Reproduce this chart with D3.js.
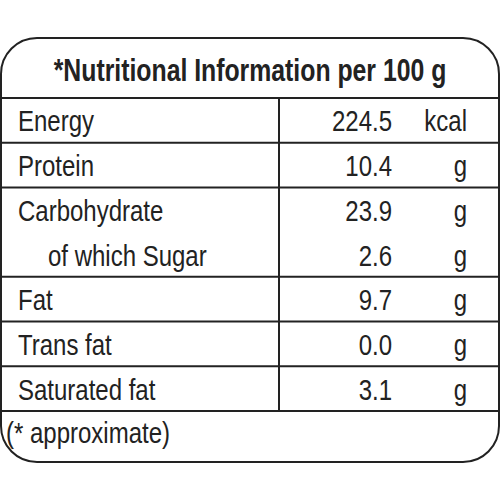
<!DOCTYPE html>
<html>
<head>
<meta charset="utf-8">
<script src="https://cdn.jsdelivr.net/npm/d3@7"></script>
<style>body{margin:0;background:#fff}</style>
</head>
<body>
<div id="chart-area"></div>
<script>
var width = 500, height = 500

var labels = ["Energy", "Protein", "Carbohydrate", "of which Sugar", "Fat", "Trans fat", "Saturated fat"]
var values = ["224.5", "10.4", "23.9", "2.6", "9.7", "0.0", "3.1"]
var units = ["kcal", "g", "g", "g", "g", "g", "g"]
var indent = [false, false, false, true, false, false, false]
// rows that get a line under them
var lineAfter = [true, true, false, true, true, true, true]

var font = "'Liberation Sans', Arial, sans-serif"
var ink = "#222"
var sx = 0.8 // squeeze text horizontally to look condensed

var svg = d3.select("#chart-area").append("svg")
.attr("width", width)
.attr("height", height)
.style("font-family", font)

// condensed text helper
function ctext(parent, x, yy, str, anchor, size, weight) {
  return parent.append("text")
  .attr("transform", "translate(" + x + "," + yy + ") scale(" + sx + ",1)")
  .attr("text-anchor", anchor || "start")
  .attr("font-size", (size || 30) + "px")
  .attr("font-weight", weight || "normal")
  .attr("fill", ink)
  .text(str)
}

// row scale
var y = d3.scaleLinear().domain([0, labels.length]).range([98, 411])

svg.append("rect")
.attr("x", 1).attr("y", 38)
.attr("width", 498).attr("height", 424)
.attr("rx", 36).attr("ry", 36)
.attr("fill", "none").attr("stroke", ink).attr("stroke-width", 2)

ctext(svg, 250, 81, "*Nutritional Information per 100 g", "middle", 31, "bold")

// header line
svg.append("line")
.attr("x1", 0).attr("x2", 500)
.attr("y1", y(0)).attr("y2", y(0))
.attr("stroke", ink).attr("stroke-width", 2)

svg.append("line")
.attr("x1", 279).attr("x2", 279)
.attr("y1", y(0)).attr("y2", y(labels.length))
.attr("stroke", ink).attr("stroke-width", 2)

svg.selectAll(".row-line")
.data(lineAfter.map((d, i) => ({d, i})).filter(r => r.d))
.enter().append("line")
.attr("class", "row-line")
.attr("x1", 0).attr("x2", 500)
.attr("y1", r => y(r.i + 1)).attr("y2", r => y(r.i + 1))
.attr("stroke", ink).attr("stroke-width", 2)

labels.forEach((d, i) => {
  var ty = y(i + 0.5) + 11
  ctext(svg, indent[i] ? 48 : 18, ty, d)
  ctext(svg, 392, ty, values[i], "end")
  ctext(svg, 467, ty, units[i], "end")
})

ctext(svg, 6, 443, "(* approximate)")
</script>
</body>
</html>
